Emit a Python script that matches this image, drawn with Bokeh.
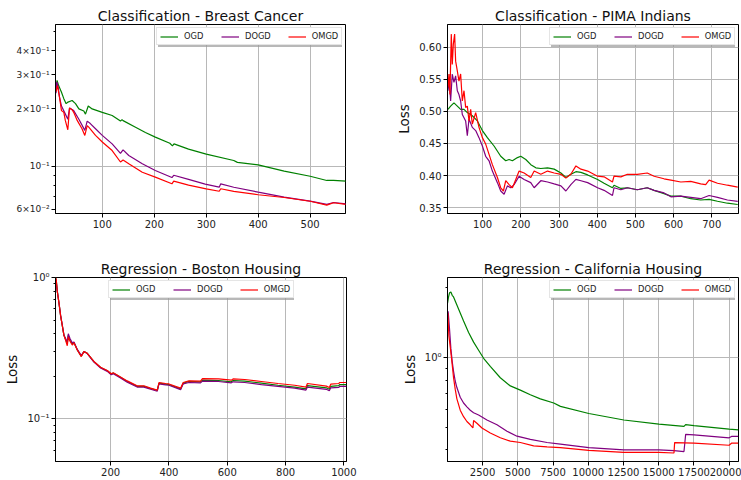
from bokeh.plotting import figure
from bokeh.layouts import column, row
from bokeh.models import FixedTicker, Range1d, Legend, LegendItem
from bokeh.embed import file_html
from bokeh.resources import INLINE

# ---------------- data ----------------
# Classification - Breast Cancer
bc_ogd_x = [11, 13, 16, 21.5, 26, 30.5, 34, 42, 48.5, 55, 64.5, 67.7, 73, 80.5, 100, 119, 135, 138, 140, 164, 183, 202, 230, 235, 238, 266, 300, 353, 360, 400, 450, 500, 532, 545, 569]
bc_ogd = [0.255, 0.28, 0.263, 0.243, 0.225, 0.212, 0.216, 0.22, 0.212, 0.199, 0.194, 0.187, 0.206, 0.199, 0.191, 0.184, 0.172, 0.175, 0.173, 0.160, 0.150, 0.142, 0.132, 0.128, 0.131, 0.123, 0.116, 0.1074, 0.105, 0.102, 0.0946, 0.089, 0.0846, 0.0846, 0.084]
bc_dogd_x = [11, 12.5, 15, 17.7, 21.5, 29, 33.7, 37, 45, 55, 66.4, 71, 77, 87, 100, 119, 135, 140, 151, 177, 202, 234, 237.5, 266, 298, 325, 328, 353, 400, 450, 500, 532, 545, 569]
bc_dogd = [0.24, 0.275, 0.26, 0.229, 0.206, 0.187, 0.176, 0.201, 0.195, 0.176, 0.154, 0.172, 0.167, 0.157, 0.145, 0.131, 0.117, 0.122, 0.114, 0.1034, 0.0953, 0.0876, 0.090, 0.0857, 0.081, 0.0781, 0.0813, 0.078, 0.0736, 0.0693, 0.0661, 0.0636, 0.065, 0.064]
bc_omgd_x = [11, 13.8, 17.7, 21.5, 26, 29, 33.7, 37, 42, 45, 52, 61, 66.4, 71, 74, 87, 100, 119, 135, 140, 151, 177, 202, 234, 237.5, 266, 300, 325, 328, 353, 400, 450, 500, 532, 545, 569]
bc_omgd = [0.245, 0.263, 0.229, 0.195, 0.191, 0.173, 0.155, 0.201, 0.197, 0.191, 0.173, 0.157, 0.145, 0.163, 0.16, 0.145, 0.134, 0.121, 0.1055, 0.108, 0.1034, 0.0934, 0.088, 0.0813, 0.084, 0.080, 0.0765, 0.0744, 0.0766, 0.0742, 0.0713, 0.069, 0.066, 0.063, 0.0648, 0.0636]

# Classification - PIMA Indians
pi_omgd_x = [9.2, 11.8, 14.4, 17.9, 20.5, 23.2, 26.7, 29.3, 33.7, 38, 42.4, 46.8, 51.2, 55.5, 59.9, 64.3, 68.7, 73, 81.8, 90.5, 99.3, 108, 116.8, 125.5, 138.7, 147.4, 154.4, 160.5, 169.3, 178, 186.8, 195.5, 208.7, 226, 235, 252.4, 270, 287.4, 305, 318, 331, 344.3, 357.4, 375, 401, 418, 440, 444, 462, 479, 505, 531, 549, 575, 593, 619, 645, 671, 684, 693, 715, 741, 768]
pi_omgd = [0.537, 0.558, 0.526, 0.620, 0.573, 0.604, 0.620, 0.578, 0.563, 0.547, 0.558, 0.516, 0.532, 0.506, 0.508, 0.485, 0.503, 0.480, 0.498, 0.475, 0.459, 0.449, 0.433, 0.417, 0.397, 0.381, 0.376, 0.392, 0.386, 0.381, 0.394, 0.407, 0.404, 0.397, 0.407, 0.402, 0.407, 0.404, 0.402, 0.396, 0.402, 0.415, 0.410, 0.407, 0.399, 0.398, 0.390, 0.399, 0.398, 0.402, 0.402, 0.404, 0.399, 0.395, 0.393, 0.390, 0.391, 0.387, 0.386, 0.393, 0.388, 0.385, 0.382]
pi_dogd_x = [9.2, 12.7, 16.2, 20.5, 24.9, 29.3, 33.7, 38, 42.4, 46.8, 51.2, 55.5, 59.9, 64.3, 73, 81.8, 90.5, 99.3, 108, 116.8, 125.5, 138.7, 147.4, 156.2, 164.9, 173.7, 182.4, 195.5, 208.7, 226, 234.9, 252.4, 270, 287.4, 305, 318, 331, 344.3, 357.4, 375, 401, 418, 440, 444, 462, 479, 505, 531, 549, 575, 593, 619, 645, 671, 693, 715, 741, 768]
pi_dogd = [0.532, 0.547, 0.516, 0.558, 0.545, 0.555, 0.532, 0.526, 0.516, 0.495, 0.490, 0.485, 0.462, 0.488, 0.475, 0.470, 0.459, 0.446, 0.430, 0.423, 0.407, 0.389, 0.376, 0.371, 0.384, 0.381, 0.386, 0.399, 0.394, 0.389, 0.381, 0.392, 0.390, 0.387, 0.384, 0.376, 0.386, 0.394, 0.392, 0.389, 0.381, 0.377, 0.369, 0.381, 0.378, 0.381, 0.378, 0.381, 0.377, 0.373, 0.367, 0.368, 0.366, 0.364, 0.369, 0.366, 0.362, 0.360]
pi_ogd_x = [9.2, 16.2, 24.9, 33.7, 42.4, 51.2, 59.9, 73, 86.2, 99.3, 112.4, 129.9, 147.4, 160.5, 169.3, 178, 191.2, 199.9, 213, 226.2, 239.3, 252.4, 270, 287.4, 305, 318, 331, 344.3, 357.4, 375, 401, 418, 440, 444, 462, 479, 505, 531, 549, 575, 593, 619, 645, 671, 693, 715, 741, 768]
pi_ogd = [0.503, 0.508, 0.513, 0.508, 0.503, 0.503, 0.498, 0.493, 0.485, 0.470, 0.459, 0.446, 0.430, 0.423, 0.425, 0.423, 0.428, 0.430, 0.425, 0.417, 0.412, 0.411, 0.412, 0.410, 0.404, 0.397, 0.402, 0.406, 0.405, 0.401, 0.394, 0.388, 0.381, 0.385, 0.380, 0.381, 0.378, 0.381, 0.377, 0.372, 0.368, 0.368, 0.364, 0.362, 0.363, 0.360, 0.357, 0.355]

# Regression - Boston Housing
bh_x = [11.4, 13.7, 17.1, 22.9, 28.6, 34.3, 40, 45.7, 51.4, 54.9, 60.6, 68.6, 74.3, 85.7, 99.4, 108.6, 120, 142.8, 165.7, 188.6, 202.3, 209, 234, 257, 291, 314, 337, 360, 366, 388.6, 400, 440, 449, 468.6, 508.5, 515, 570, 614, 620, 660, 717, 774, 831, 870, 875, 940, 950, 955, 983, 985, 1009]
bh_omgd = [1.0, 0.958, 0.796, 0.661, 0.535, 0.4565, 0.3895, 0.36, 0.329, 0.38, 0.355, 0.333, 0.345, 0.307, 0.276, 0.299, 0.291, 0.255, 0.232, 0.220, 0.2085, 0.212, 0.198, 0.1857, 0.1715, 0.1715, 0.165, 0.160, 0.1808, 0.178, 0.1767, 0.165, 0.181, 0.1857, 0.185, 0.193, 0.192, 0.188, 0.192, 0.190, 0.184, 0.178, 0.173, 0.168, 0.178, 0.1705, 0.167, 0.176, 0.178, 0.181, 0.181]
bh_ogd = [1.0, 0.95, 0.80, 0.66, 0.535, 0.457, 0.39, 0.365, 0.34, 0.39, 0.36, 0.34, 0.347, 0.308, 0.278, 0.30, 0.291, 0.254, 0.231, 0.219, 0.207, 0.211, 0.197, 0.184, 0.170, 0.170, 0.164, 0.159, 0.179, 0.176, 0.175, 0.163, 0.179, 0.184, 0.183, 0.188, 0.187, 0.183, 0.187, 0.185, 0.179, 0.173, 0.168, 0.163, 0.172, 0.166, 0.162, 0.170, 0.172, 0.175, 0.175]
bh_dogd = [0.98, 0.93, 0.80, 0.66, 0.54, 0.46, 0.39, 0.37, 0.35, 0.40, 0.37, 0.345, 0.35, 0.31, 0.28, 0.30, 0.29, 0.252, 0.229, 0.217, 0.205, 0.209, 0.195, 0.182, 0.168, 0.168, 0.162, 0.157, 0.177, 0.174, 0.173, 0.161, 0.177, 0.181, 0.180, 0.185, 0.184, 0.180, 0.183, 0.181, 0.175, 0.170, 0.165, 0.160, 0.168, 0.162, 0.158, 0.166, 0.167, 0.170, 0.170]

# Regression - California Housing
ch_ogd_x = [16, 88, 158, 254, 348, 443, 680, 917, 1154, 1510, 1865, 2220, 2575, 3049, 3760, 4470, 5180, 5890, 6600, 7550, 8025, 10038, 12525, 15013, 16790, 16908, 17500, 19990, 20640]
ch_ogd = [1.72, 1.83, 1.905, 1.92, 1.86, 1.83, 1.69, 1.56, 1.44, 1.285, 1.167, 1.077, 0.994, 0.917, 0.819, 0.755, 0.724, 0.692, 0.664, 0.637, 0.616, 0.574, 0.538, 0.516, 0.505, 0.514, 0.509, 0.4917, 0.488]
ch_dogd_x = [16, 60, 158, 254, 348, 443, 561, 680, 917, 1154, 1391, 1628, 1865, 2220, 2812, 3523, 4234, 4944, 5890, 7075, 8025, 10038, 12525, 15013, 16080, 16790, 16908, 17500, 19990, 20160, 20640]
ch_dogd = [1.46, 1.585, 1.33, 1.094, 0.962, 0.873, 0.793, 0.743, 0.675, 0.637, 0.613, 0.593, 0.578, 0.565, 0.538, 0.513, 0.481, 0.458, 0.4436, 0.43, 0.423, 0.409, 0.40, 0.40, 0.397, 0.393, 0.466, 0.464, 0.4506, 0.457, 0.457]
ch_omgd_x = [16, 40, 110, 206, 301, 372, 443, 561, 680, 917, 1154, 1391, 1628, 1818, 1865, 2100, 2457, 3049, 3760, 4470, 5180, 6128, 7075, 8025, 10038, 12525, 15013, 16080, 16127, 17500, 19990, 20160, 20640]
ch_omgd = [1.40, 1.56, 1.245, 1.115, 0.993, 0.902, 0.819, 0.731, 0.664, 0.593, 0.556, 0.53, 0.513, 0.497, 0.535, 0.521, 0.497, 0.473, 0.451, 0.436, 0.43, 0.416, 0.412, 0.409, 0.398, 0.39, 0.39, 0.3874, 0.4296, 0.427, 0.4184, 0.427, 0.427]

series_names = ["OGD", "DOGD", "OMGD"]
series_colors = ["#008000", "#800080", "#ff0000"]

bc_xticks = [100, 200, 300, 400, 500]
pi_xticks = [100, 200, 300, 400, 500, 600, 700]
bh_xticks = [200, 400, 600, 800, 1000]
ch_xticks = [2500, 5000, 7500, 10000, 12500, 15000, 17500, 20000]

bc_yticks = [0.06, 0.1, 0.2, 0.3, 0.4]
bc_ylabels = ["6×10⁻²", "10⁻¹", "2×10⁻¹", "3×10⁻¹", "4×10⁻¹"]
pi_yticks = [0.35, 0.40, 0.45, 0.50, 0.55, 0.60]
pi_ylabels = ["0.35", "0.40", "0.45", "0.50", "0.55", "0.60"]
bh_yticks = [0.1, 1.0]
bh_ylabels = ["10⁻¹", "10⁰"]
ch_yticks = [1.0]
ch_ylabels = ["10⁰"]

FONT = "DejaVu Sans"
GRID = "#b8b8b8"
LEG_W, LEG_H = 185, 16


def make_panel(title, w, h, xr, yr, log, borders, xticks, yticks, ylabels,
               yminor, ygrid_ticks, ylabel, ylab_size="10px"):
    kw = dict(width=w, height=h, output_backend="svg", toolbar_location=None,
              x_range=Range1d(*xr), y_range=Range1d(*yr),
              min_border_left=borders[0], min_border_right=borders[1],
              min_border_top=borders[2], min_border_bottom=borders[3])
    if log:
        kw["y_axis_type"] = "log"
    p = figure(**kw)
    p.title.text = title
    p.title.text_font = FONT
    p.title.text_font_size = "14px"
    p.title.text_font_style = "normal"
    p.title.align = "center"
    p.title.standoff = 1
    p.title.text_color = "#111111"
    p.outline_line_color = "black"
    p.outline_line_width = 1
    p.outline_line_alpha = 1
    p.background_fill_color = "white"
    p.border_fill_color = "white"

    p.xaxis.ticker = FixedTicker(ticks=xticks)
    p.xaxis.major_label_overrides = {t: str(t) for t in xticks}
    p.yaxis.ticker = FixedTicker(ticks=yticks, minor_ticks=yminor)
    p.yaxis.major_label_overrides = dict(zip(yticks, ylabels))
    for ax in (p.xaxis, p.yaxis):
        ax.axis_line_color = "black"
        ax.major_tick_line_color = "black"
        ax.minor_tick_line_color = "black"
        ax.major_tick_in = 0
        ax.major_tick_out = 4
        ax.minor_tick_in = 0
        ax.minor_tick_out = 2
        ax.major_label_text_font = FONT
        ax.major_label_text_color = "#222222"
        ax.major_label_standoff = 2
    p.xaxis.major_label_text_font_size = "10px"
    p.yaxis.major_label_text_font_size = ylab_size
    if ylabel:
        p.yaxis.axis_label = ylabel
        p.yaxis.axis_label_text_font = FONT
        p.yaxis.axis_label_text_font_size = "13.5px"
        p.yaxis.axis_label_text_font_style = "normal"
        p.yaxis.axis_label_text_color = "#111111"
        p.yaxis.axis_label_standoff = 4

    p.xgrid.ticker = FixedTicker(ticks=xticks)
    p.ygrid.ticker = FixedTicker(ticks=ygrid_ticks)
    for g in (p.xgrid, p.ygrid):
        g.grid_line_color = GRID
        g.grid_line_width = 1
    return p


def legend_style(lg):
    lg.orientation = "horizontal"
    lg.label_text_font = FONT
    lg.label_text_font_size = "8.3px"
    lg.label_text_color = "#222222"
    lg.glyph_width = 18
    lg.glyph_height = 9
    lg.label_height = 9
    lg.label_standoff = 6
    lg.spacing = 17
    lg.padding = 3
    lg.margin = 0


def add_legend(p, renderers, fx, fy):
    # fx, fy: legend bottom-left corner inside the frame, in screen pixels
    # shadow box: same item layout with empty labels, drawn behind the legend
    shadow = Legend(items=[LegendItem(label="", renderers=[r]) for r in renderers])
    legend_style(shadow)
    shadow.label_width = 24
    shadow.location = (fx + 2, fy - 2)
    shadow.border_line_alpha = 0
    shadow.background_fill_color = "#9a9a9a"
    shadow.background_fill_alpha = 0.7
    main = Legend(items=[LegendItem(label=n, renderers=[r]) for n, r in zip(series_names, renderers)])
    legend_style(main)
    main.location = (fx, fy)
    main.border_line_color = "#cccccc"
    main.border_line_width = 1
    main.background_fill_color = "white"
    main.background_fill_alpha = 1.0
    p.add_layout(shadow, "center")
    p.add_layout(main, "center")


def add_lines(p, xs_list, ys_list):
    rs = []
    for xs, ys, c in zip(xs_list, ys_list, series_colors):
        rs.append(p.line(xs, ys, color=c, line_width=1.2))
    return rs


W1, W2 = 370, 371
H1, H2 = 240, 240

# frame sizes (px): row 1 -> 189 high, row 2 -> 184 high
p1 = make_panel("Classification - Breast Cancer", W1, H1, (10, 568), (0.057, 0.546), True,
                (55, 25, 24, 27), bc_xticks, bc_yticks, bc_ylabels,
                [0.07, 0.08, 0.09, 0.5], [0.1], None, ylab_size="9px")
r1 = add_lines(p1, [bc_ogd_x, bc_dogd_x, bc_omgd_x], [bc_ogd, bc_dogd, bc_omgd])
add_legend(p1, r1, 290 - 4 - LEG_W, 189 - 5 - LEG_H)

p2 = make_panel("Classification - PIMA Indians", W2, H1, (8, 770), (0.341, 0.635), False,
                (77, 3, 24, 27), pi_xticks, pi_yticks, pi_ylabels,
                [], pi_yticks, "Loss")
r2 = add_lines(p2, [pi_ogd_x, pi_dogd_x, pi_omgd_x], [pi_ogd, pi_dogd, pi_omgd])
add_legend(p2, r2, 291 - 4 - LEG_W, 189 - 5 - LEG_H)

p3 = make_panel("Regression - Boston Housing", W1, H2, (11, 1009), (0.05, 1.0), True,
                (55, 24, 37, 19), bh_xticks, bh_yticks, bh_ylabels,
                [0.06, 0.07, 0.08, 0.09, 0.2, 0.3, 0.4, 0.5, 0.6, 0.7, 0.8, 0.9], [0.1, 1.0], "Loss")
r3 = add_lines(p3, [bh_x, bh_x, bh_x], [bh_ogd, bh_dogd, bh_omgd])
add_legend(p3, r3, (291 - LEG_W) // 2, 184 - 5 - LEG_H)

p4 = make_panel("Regression - California Housing", W2, H2, (14, 20657), (0.356, 2.22), True,
                (77, 3, 37, 19), ch_xticks, ch_yticks, ch_ylabels,
                [0.4, 0.5, 0.6, 0.7, 0.8, 0.9, 2.0], [1.0], "Loss")
r4 = add_lines(p4, [ch_ogd_x, ch_dogd_x, ch_omgd_x], [ch_ogd, ch_dogd, ch_omgd])
add_legend(p4, r4, 291 - 4 - LEG_W, 184 - 5 - LEG_H)

layout = column(row(p1, p2), row(p3, p4))
open("out.html", "w").write(file_html(layout, INLINE))
